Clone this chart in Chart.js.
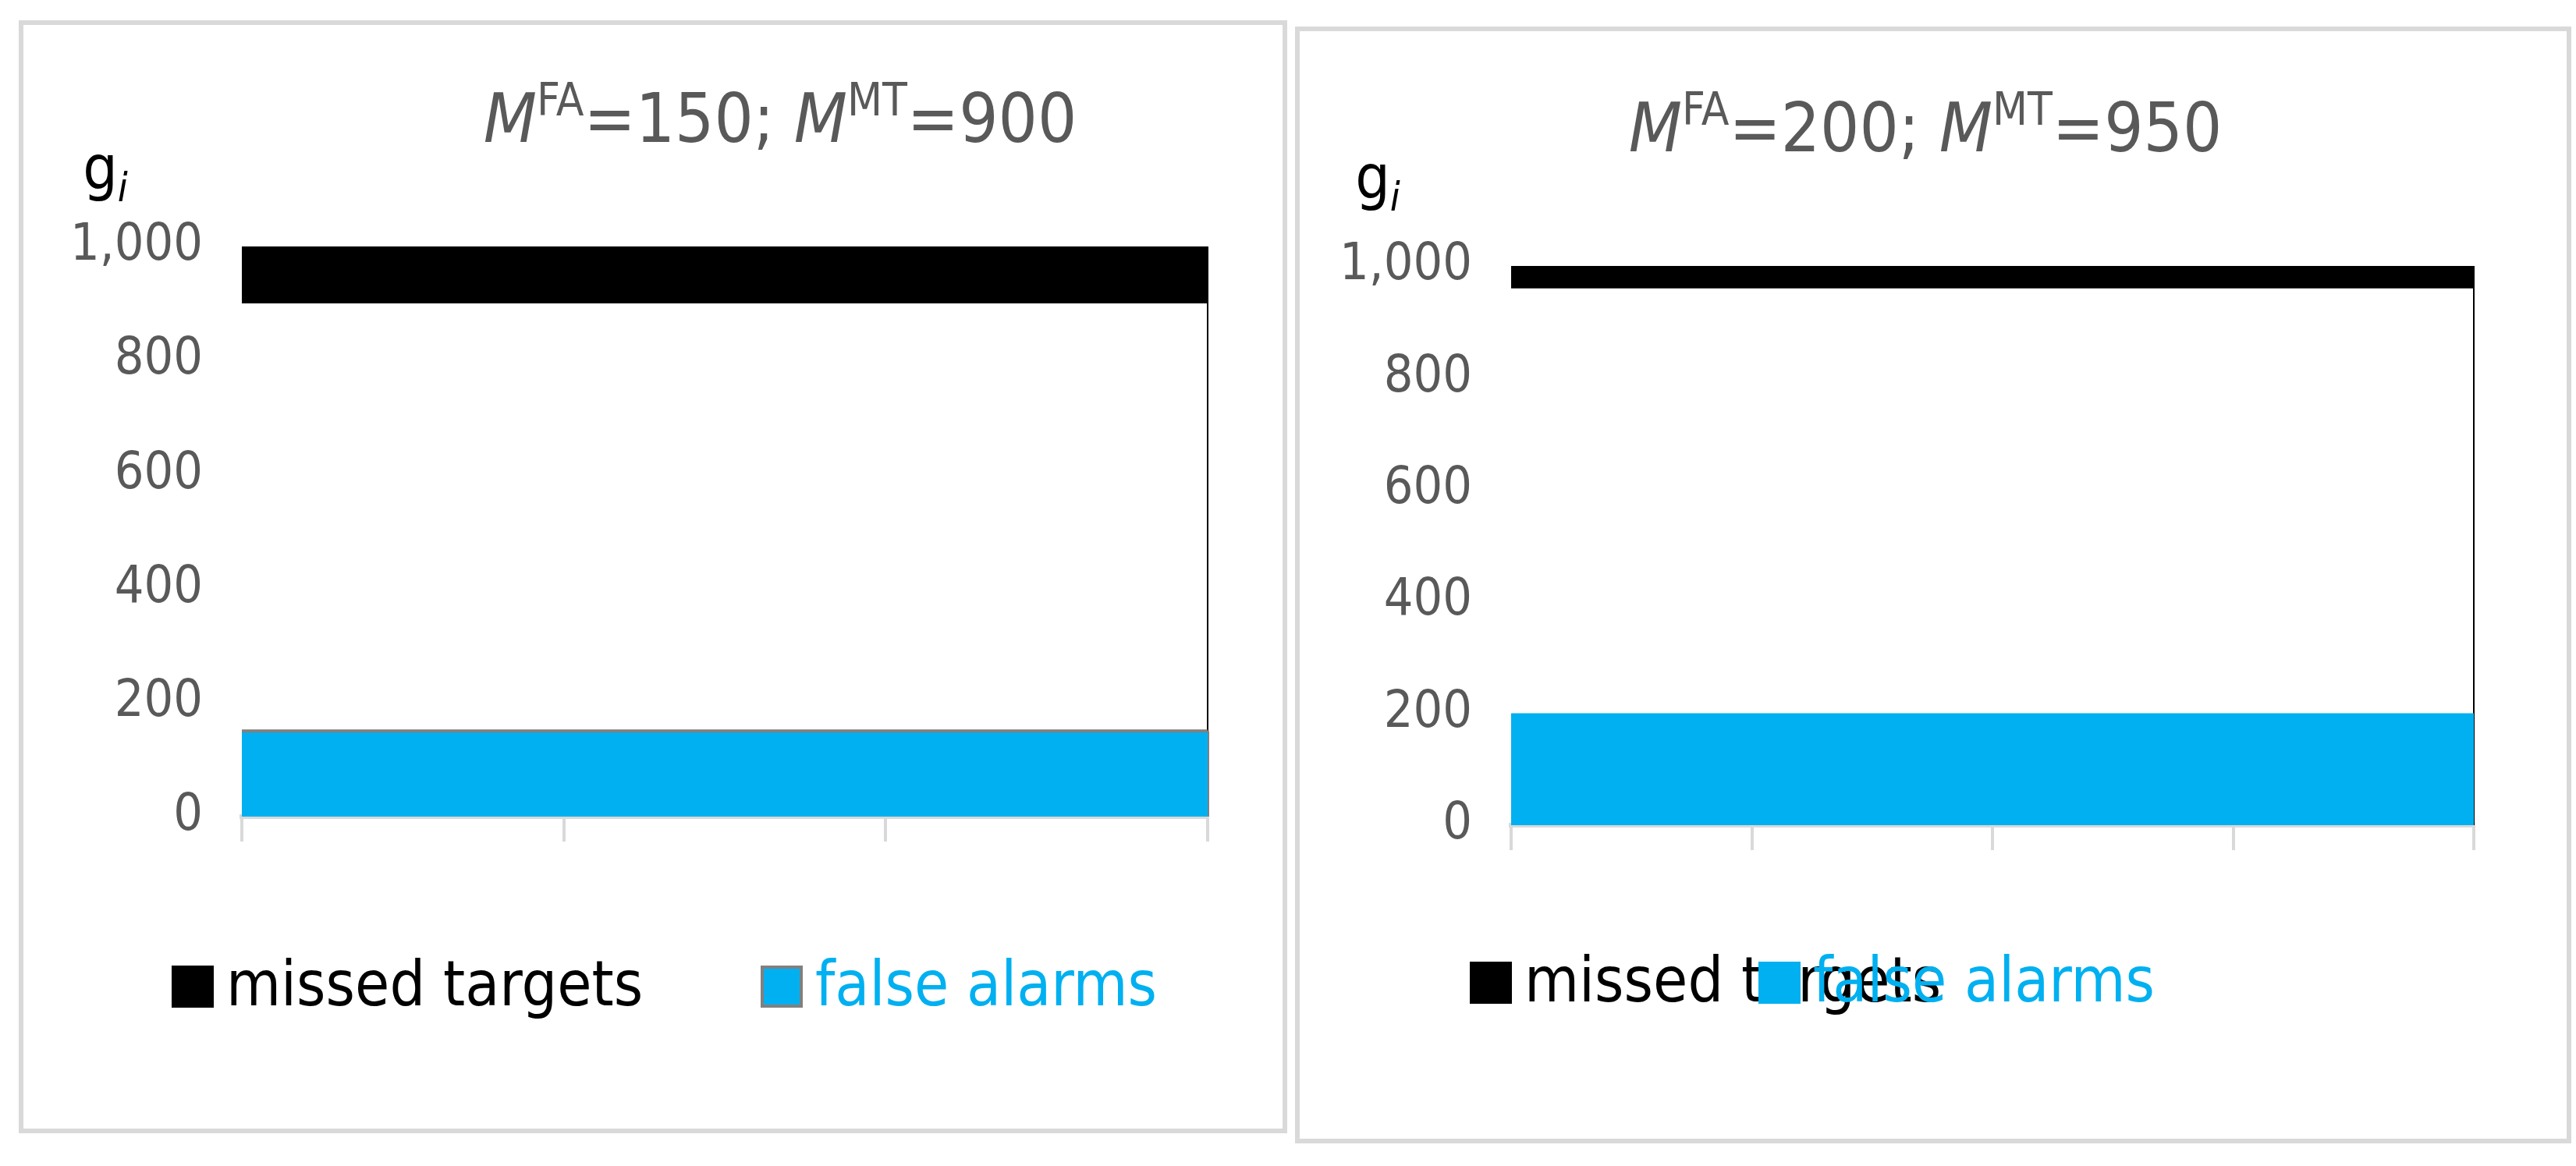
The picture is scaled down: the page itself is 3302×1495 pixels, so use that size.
<!DOCTYPE html>
<html>
<head>
<meta charset="utf-8">
<script src="https://cdn.jsdelivr.net/npm/chart.js@4"></script>
<style>
  body { margin: 0; background: #fff; width: 3302px; height: 1495px; position: relative; overflow: hidden; }
  .panel { position: absolute; border: 6px solid #d9d9d9; background: #fff; }
  canvas { display: block; }
</style>
</head>
<body>
<div class="panel" style="left:24px;top:26px;"><canvas id="left" width="1614" height="1415"></canvas></div>
<div class="panel" style="left:1660px;top:34px;"><canvas id="right" width="1624" height="1420"></canvas></div>
<script>
const FONT = '"Liberation Sans Narrow", "DejaVu Sans Condensed", "Open Sans", sans-serif';
const BLUE = '#00b0f0';

const leftCategories = ['1', '2', '3', '4'];
const leftFalseAlarms = [150, 150, 150, 150];
const leftMissedLow = [900, 900, 900, 900];
const leftMissedHigh = [1000, 1000, 1000, 1000];
const leftTitle = { fa: 150, mt: 900 };

const rightCategories = ['1', '2', '3', '4', '5'];
const rightFalseAlarms = [200, 200, 200, 200, 200];
const rightMissedLow = [960, 960, 960, 960, 960];
const rightMissedHigh = [1000, 1000, 1000, 1000, 1000];
const rightTitle = { fa: 200, mt: 950 };

const yTicks = [0, 200, 400, 600, 800, 1000];

function drawParts(ctx, parts, cx, y) {
  let total = 0;
  parts.forEach(p => { ctx.font = p.font; total += ctx.measureText(p.t).width; });
  let x = cx - total / 2;
  parts.forEach(p => {
    ctx.font = p.font;
    ctx.fillStyle = p.color || '#595959';
    ctx.fillText(p.t, x, y + (p.dy || 0));
    x += ctx.measureText(p.t).width;
  });
}

const overlay = {
  id: 'overlay',
  afterDraw(chart, args, opts) {
    const ctx = chart.ctx;
    ctx.save();
    ctx.textBaseline = 'alphabetic';
    ctx.textAlign = 'left';
    const big = '88px ' + FONT, itBig = 'italic 88px ' + FONT, sup = '58px ' + FONT;
    drawParts(ctx, [
      { t: 'M', font: itBig }, { t: 'FA', font: sup, dy: -34 },
      { t: '=' + opts.fa + '; ', font: big },
      { t: 'M', font: itBig }, { t: 'MT', font: sup, dy: -34 },
      { t: '=' + opts.mt, font: big },
    ], opts.titleX, opts.titleY);
    // axis label g_i
    drawParts(ctx, [
      { t: 'g', font: '78px ' + FONT, color: '#000' },
      { t: 'i', font: 'italic 52px ' + FONT, color: '#000', dy: 16 },
    ], opts.gX, opts.gY);
    // legend
    const items = [
      { label: chart.data.datasets[2].label, fill: '#000', stroke: null, text: '#000' },
      { label: chart.data.datasets[0].label, fill: BLUE, stroke: opts.faBorder, text: BLUE },
    ];
    ctx.font = '80px ' + FONT;
    ctx.textBaseline = 'middle';
    items.forEach((it, i) => {
      const bx = opts.legendX[i], cy = opts.legendY;
      ctx.fillStyle = it.fill;
      ctx.fillRect(bx, cy - 26, 54, 54);
      if (it.stroke) { ctx.strokeStyle = it.stroke; ctx.lineWidth = 4; ctx.strokeRect(bx + 2, cy - 24, 50, 50); }
      ctx.fillStyle = it.text;
      ctx.fillText(it.label, bx + 70, cy + 4);
    });
    ctx.restore();
  }
};

function makeChart(id, cats, fa, mlow, mhigh, title, geo) {
  const last = cats[cats.length - 1];
  return new Chart(document.getElementById(id), {
    type: 'line',
    data: {
      labels: cats,
      datasets: [
        { label: 'false alarms', data: fa, fill: 'origin', backgroundColor: BLUE,
          borderColor: geo.faBorder || BLUE, borderWidth: geo.faBorder ? 4 : 0, pointRadius: 0 },
        { label: 'missed low', data: mlow, fill: false, borderWidth: 0, pointRadius: 0 },
        { label: 'missed targets', data: mhigh, fill: '-1', backgroundColor: '#000',
          borderColor: '#000', borderWidth: 0, pointRadius: 0 },
        { label: 'edge', data: [{ x: last, y: mhigh[mhigh.length - 1] }, { x: last, y: geo.edgeTo }],
          borderColor: '#000', borderWidth: 2, pointRadius: 0, fill: false },
        ...(geo.faBorder ? [{ label: 'fa edge', data: [{ x: last, y: 0 }, { x: last, y: fa[fa.length - 1] }],
          borderColor: geo.faBorder, borderWidth: 4, pointRadius: 0, fill: false }] : []),
      ],
    },
    options: {
      responsive: false,
      devicePixelRatio: 1,
      animation: false,
      layout: { padding: { top: geo.top, right: geo.right, bottom: geo.bottom, left: 0 } },
      plugins: {
        legend: { display: false },
        tooltip: { enabled: false },
        overlay: { fa: title.fa, mt: title.mt, faBorder: geo.faBorder, titleX: geo.titleX, titleY: geo.titleY,
          gX: geo.gX, gY: geo.gY, legendX: geo.legendX, legendY: geo.legendY },
      },
      scales: {
        x: {
          offset: false,
          grid: { drawOnChartArea: false, drawTicks: true, tickLength: 32, color: '#d9d9d9', lineWidth: 4 },
          border: { color: '#d9d9d9', width: 6 },
          ticks: { callback: () => '', padding: 0 },
          afterFit: s => { s.height = 40; },
        },
        y: {
          min: 0, max: 1000,
          afterBuildTicks: s => { s.ticks = yTicks.map(v => ({ value: v })); },
          grid: { display: false },
          border: { display: false },
          ticks: { color: '#595959', font: { family: FONT, size: 66 }, padding: 42 },
          afterFit: s => { s.width = geo.left; },
        },
      },
    },
    plugins: [overlay],
  });
}

makeChart('left', leftCategories, leftFalseAlarms, leftMissedLow, leftMissedHigh, leftTitle, {
  top: 284, right: 96, bottom: 360, left: 280, faBorder: '#808080', edgeTo: 150,
  titleX: 970, titleY: 150, gX: 105, gY: 210, legendX: [190, 945], legendY: 1232,
});
makeChart('right', rightCategories, rightFalseAlarms, rightMissedLow, rightMissedHigh, rightTitle, {
  top: 301, right: 119, bottom: 362, left: 271, faBorder: null, edgeTo: 0,
  titleX: 802, titleY: 154, gX: 100, gY: 214, legendX: [218, 588], legendY: 1219,
});
</script>
</body>
</html>
